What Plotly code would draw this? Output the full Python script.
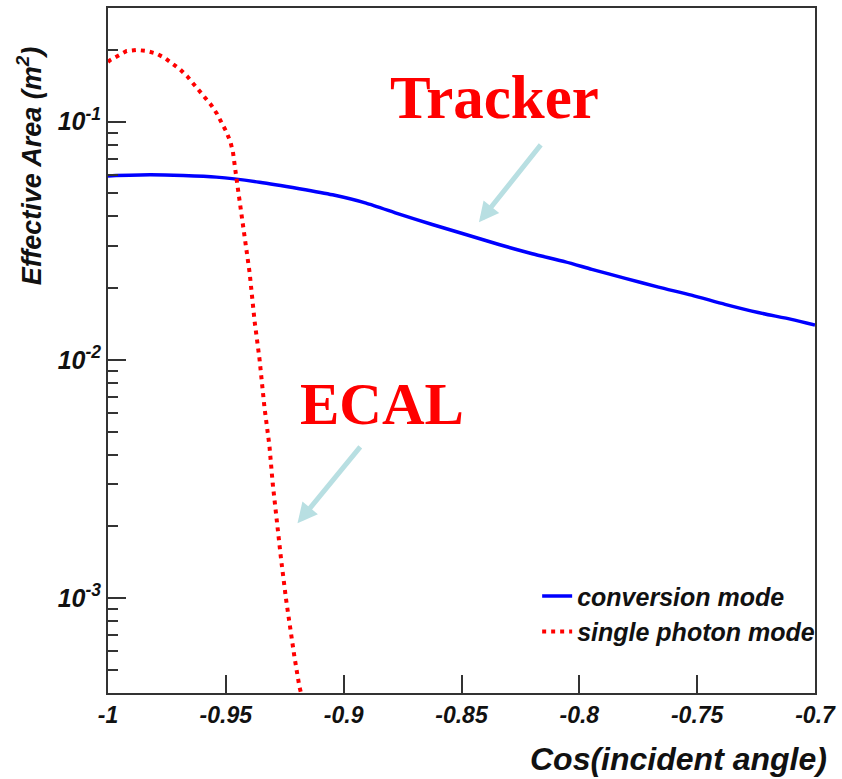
import plotly.graph_objects as go

# ---- data ----
conv_x = [-1.0, -0.9822, -0.9681, -0.954, -0.9357, -0.9188, -0.9047, -0.8905, -0.8764,
          -0.8624, -0.8482, -0.8341, -0.82, -0.8059, -0.7947, -0.7805, -0.7664, -0.7524,
          -0.7382, -0.7241, -0.71, -0.70]
conv_y = [0.0592, 0.0598, 0.0594, 0.0585, 0.0557, 0.0523, 0.0493, 0.0455, 0.0409,
          0.0370, 0.0336, 0.0305, 0.0279, 0.0258, 0.0240, 0.0220, 0.0202, 0.0187,
          0.0171, 0.0158, 0.0148, 0.0140]

single_x = [-1.0, -0.9992, -0.9921, -0.9879, -0.9836, -0.9794, -0.9759, -0.9724, -0.9695,
            -0.9664, -0.9639, -0.9614, -0.9585, -0.9561, -0.9538, -0.9519, -0.9498, -0.9481,
            -0.9470, -0.9455, -0.9434, -0.9399, -0.9378, -0.9357, -0.9336, -0.9315,
            -0.9301, -0.9284, -0.9265, -0.9244, -0.9223, -0.9209, -0.9188, -0.9179]
single_y = [0.178, 0.181, 0.198, 0.200, 0.198, 0.193, 0.185, 0.175, 0.166,
            0.155, 0.145, 0.134, 0.125, 0.117, 0.108, 0.100, 0.0908, 0.0825,
            0.0748, 0.0579, 0.0401, 0.0232, 0.01456, 0.01007, 0.00631, 0.00436,
            0.00302, 0.00205, 0.00144, 0.000982, 0.000678, 0.000568, 0.000426, 0.000393]

x_ticks = [-1, -0.95, -0.9, -0.85, -0.8, -0.75, -0.7]
x_tick_text = ["-1", "-0.95", "-0.9", "-0.85", "-0.8", "-0.75", "-0.7"]
y_ticks = [1e-3, 1e-2, 1e-1]
y_tick_text = ["10<sup>-3</sup>", "10<sup>-2</sup>", "10<sup>-1</sup>"]
y_minor = [m * 10.0 ** e for e in (-4, -3, -2, -1) for m in range(2, 10)]

FONT = "Liberation Sans, Arial, Helvetica, sans-serif"
SERIF = "Liberation Serif, Times New Roman, serif"
AXC = "#333333"

fig = go.Figure()
fig.add_trace(go.Scatter(x=conv_x, y=conv_y, mode="lines", name="conversion mode",
                         line=dict(color="#0000ff", width=3.5, shape="spline", smoothing=0.6)))
fig.add_trace(go.Scatter(x=single_x, y=single_y, mode="lines", name="single photon mode",
                         line=dict(color="#ff0000", width=4, dash="4px,5px")))

fig.update_layout(
    width=842, height=779,
    margin=dict(l=108, r=25, t=6, b=86),
    paper_bgcolor="white", plot_bgcolor="white",
    showlegend=True,
    legend=dict(x=0.607, y=0.175, xanchor="left", yanchor="top",
                bgcolor="rgba(0,0,0,0)",
                font=dict(family=FONT, size=25, color="#111", style="italic", weight="bold"),
                tracegroupgap=0, itemwidth=30),
    xaxis=dict(range=[-1, -0.7], tickvals=x_ticks, ticktext=x_tick_text,
               ticks="inside", ticklen=18, tickwidth=2, tickcolor=AXC,
               showline=True, linecolor=AXC, linewidth=2, mirror=True,
               showgrid=False, zeroline=False,
               tickfont=dict(family=FONT, size=23, color="#111", style="italic", weight="bold")),
    yaxis=dict(type="log", range=[-3.398, -0.523], tickvals=y_ticks, ticktext=y_tick_text,
               ticks="inside", ticklen=18, tickwidth=2, tickcolor=AXC,
               minor=dict(tickvals=y_minor, ticks="inside", ticklen=10, tickwidth=2,
                          tickcolor=AXC, showgrid=False),
               showline=True, linecolor=AXC, linewidth=2, mirror=True,
               showgrid=False, zeroline=False,
               tickfont=dict(family=FONT, size=25, color="#111", style="italic", weight="bold")),
    annotations=[
        dict(text="Effective Area (m<sup>2</sup>)", xref="paper", yref="paper",
             x=-0.112, y=0.77, textangle=-90, showarrow=False,
             xanchor="center", yanchor="middle",
             font=dict(family=FONT, size=27, color="#111", style="italic", weight="bold")),
        dict(text="Cos(incident angle)", xref="paper", yref="paper",
             x=1.02, y=-0.097, showarrow=False, xanchor="right", yanchor="middle",
             font=dict(family=FONT, size=32, color="#111", style="italic", weight="bold")),
        dict(text="Tracker", xref="x", yref="y", x=-0.8362, y=-0.90, showarrow=False,
             font=dict(family=SERIF, size=61, color="#ff0000", weight="bold")),
        dict(text="ECAL", xref="x", yref="y", x=-0.8836, y=-2.185, showarrow=False,
             font=dict(family=SERIF, size=59, color="#ff0000", weight="bold")),
        dict(text="", xref="x", yref="y", x=-0.8426, y=-1.4226, ax=63, ay=-79,
             showarrow=True, arrowhead=2, arrowsize=0.8, arrowwidth=5,
             arrowcolor="#b8dfe2"),
        dict(text="", xref="x", yref="y", x=-0.9196, y=-2.686, ax=64, ay=-78,
             showarrow=True, arrowhead=2, arrowsize=0.8, arrowwidth=5,
             arrowcolor="#b8dfe2"),
    ],
)

fig.write_html("out.html")
